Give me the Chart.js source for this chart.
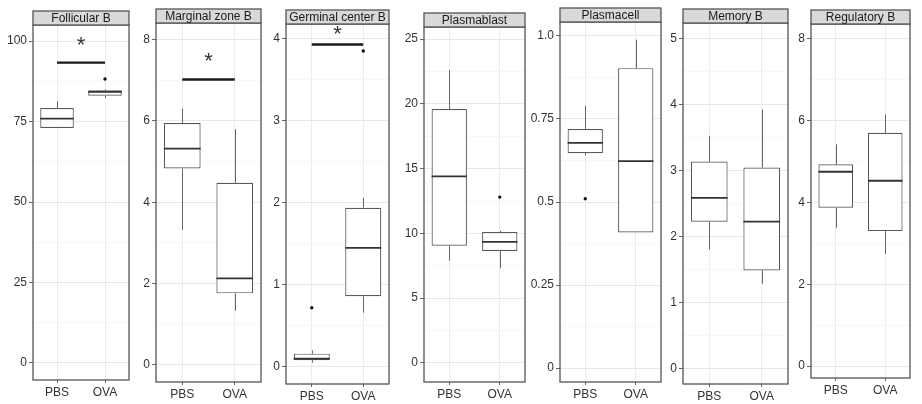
<!DOCTYPE html>
<html>
<head>
<meta charset="utf-8">
<script src="https://cdn.jsdelivr.net/npm/chart.js@4.4.1/dist/chart.umd.min.js"></script>
<style>
    html, body { margin: 0; padding: 0; background: #fff; }
    #wrap { position: relative; width: 922px; height: 404px; overflow: hidden; }
    .panel { position: absolute; top: 0; }
</style>
</head>
<body>
<div id="wrap"></div>
<script>
(function () {
    'use strict';

    var groups = ['PBS', 'OVA'];
    var titles = ['Follicular B', 'Marginal zone B', 'Germinal center B', 'Plasmablast', 'Plasmacell', 'Memory B', 'Regulatory B'];

    // box stats: [min, q1, median, q3, max]
    var follicularPBS  = [73.0, 73.0, 75.9, 79.2, 81.3];
    var follicularOVA  = [82.3, 83.0, 84.2, 84.7, 85.0];
    var marginalPBS    = [3.32, 4.83, 5.32, 5.95, 6.30];
    var marginalOVA    = [1.33, 1.76, 2.13, 4.48, 5.80];
    var germinalPBS    = [0.05, 0.08, 0.10, 0.16, 0.20];
    var germinalOVA    = [0.66, 0.86, 1.45, 1.94, 2.06];
    var plasmablastPBS = [7.9, 9.05, 14.4, 19.6, 22.6];
    var plasmablastOVA = [7.3, 8.65, 9.35, 10.1, 10.2];
    var plasmacellPBS  = [0.64, 0.647, 0.678, 0.72, 0.79];
    var plasmacellOVA  = [0.408, 0.408, 0.623, 0.903, 0.989];
    var memoryPBS      = [1.81, 2.23, 2.59, 3.14, 3.53];
    var memoryOVA      = [1.29, 1.49, 2.23, 3.05, 3.93];
    var regulatoryPBS  = [3.38, 3.87, 4.75, 4.93, 5.42];
    var regulatoryOVA  = [2.74, 3.30, 4.53, 5.70, 6.15];

    // outliers per group (PBS, OVA)
    var follicularOut  = [null, 88.2];
    var germinalOut    = [0.72, 3.85];
    var plasmablastOut = [null, 12.8];
    var plasmacellOut  = [0.51, null];

    // significance bar level and asterisk level
    var sigBar  = [93.3, 7.02, 3.93, null, null, null, null];
    var sigStar = [100.5, 7.6, 4.13, null, null, null, null];

    var follicularTicks  = [0, 25, 50, 75, 100];
    var marginalTicks    = [0, 2, 4, 6, 8];
    var germinalTicks    = [0, 1, 2, 3, 4];
    var plasmablastTicks = [0, 5, 10, 15, 20, 25];
    var plasmacellTicks  = [0, 0.25, 0.5, 0.75, 1.0];
    var plasmacellLabels = ['0', '0.25', '0.5', '0.75', '1.0'];
    var memoryTicks      = [0, 1, 2, 3, 4, 5];
    var regulatoryTicks  = [0, 2, 4, 6, 8];

    var PANELS = [
        { stats: [follicularPBS, follicularOVA],   out: follicularOut,  ticks: follicularTicks },
        { stats: [marginalPBS, marginalOVA],       out: null,           ticks: marginalTicks },
        { stats: [germinalPBS, germinalOVA],       out: germinalOut,    ticks: germinalTicks },
        { stats: [plasmablastPBS, plasmablastOVA], out: plasmablastOut, ticks: plasmablastTicks },
        { stats: [plasmacellPBS, plasmacellOVA],   out: plasmacellOut,  ticks: plasmacellTicks, labels: plasmacellLabels },
        { stats: [memoryPBS, memoryOVA],           out: null,           ticks: memoryTicks },
        { stats: [regulatoryPBS, regulatoryOVA],   out: null,           ticks: regulatoryTicks }
    ];

    // page layout of each panel (plot area in px) and y range
    var LAYOUT = [
        { left: 33,  right: 130, top: 25, bottom: 380, ymin: -5.3,  ymax: 105 },
        { left: 156, right: 261, top: 23, bottom: 382, ymin: -0.42, ymax: 8.41 },
        { left: 286, right: 390, top: 24, bottom: 384, ymin: -0.21, ymax: 4.18 },
        { left: 424, right: 526, top: 27, bottom: 382, ymin: -1.47, ymax: 25.93 },
        { left: 560, right: 662, top: 22, bottom: 382, ymin: -0.042, ymax: 1.042 },
        { left: 683, right: 788, top: 23, bottom: 384, ymin: -0.23, ymax: 5.24 },
        { left: 811, right: 910, top: 24, bottom: 378, ymin: -0.29, ymax: 8.36 }
    ];

    var LEFT_PAD = 40;
    var STRIP_H = 14;
    var FONT = 'Liberation Sans, Arial, sans-serif';

    Chart.defaults.font.family = FONT;
    Chart.defaults.color = '#333';

    var boxPlugin = {
        id: 'boxparts',
        afterDatasetsDraw: function (chart, args, opts) {
            var ctx = chart.ctx, y = chart.scales.y, meta = chart.getDatasetMeta(0);
            ctx.save();
            opts.stats.forEach(function (s, i) {
                var bar = meta.data[i];
                if (!bar) return;
                var x = Math.round(bar.x) + 0.5, hw = bar.width / 2;
                ctx.strokeStyle = '#666';
                ctx.lineWidth = 1;
                ctx.beginPath();
                ctx.moveTo(x, y.getPixelForValue(s[3]));
                ctx.lineTo(x, y.getPixelForValue(s[4]));
                ctx.moveTo(x, y.getPixelForValue(s[1]));
                ctx.lineTo(x, y.getPixelForValue(s[0]));
                ctx.stroke();
                ctx.strokeStyle = '#333';
                ctx.lineWidth = 1.8;
                ctx.beginPath();
                var ym = y.getPixelForValue(s[2]);
                ctx.moveTo(bar.x - hw, ym);
                ctx.lineTo(bar.x + hw, ym);
                ctx.stroke();
            });
            if (opts.star != null) {
                var xs = chart.scales.x;
                var xm = (xs.getPixelForValue(0) + xs.getPixelForValue(1)) / 2;
                var fs = 22;
                ctx.fillStyle = '#333';
                ctx.font = fs + 'px ' + FONT;
                ctx.textAlign = 'center';
                ctx.textBaseline = 'alphabetic';
                ctx.fillText('*', xm, y.getPixelForValue(opts.star) + 0.57 * fs);
            }
            ctx.restore();
        },
        afterDraw: function (chart, args, opts) {
            var ctx = chart.ctx, a = chart.chartArea;
            ctx.save();
            ctx.strokeStyle = '#555';
            ctx.lineWidth = 1.3;
            ctx.strokeRect(a.left, a.top, a.right - a.left, a.bottom - a.top);
            ctx.fillStyle = '#d9d9d9';
            ctx.fillRect(a.left, a.top - STRIP_H, a.right - a.left, STRIP_H);
            ctx.strokeRect(a.left, a.top - STRIP_H, a.right - a.left, STRIP_H);
            ctx.fillStyle = '#1a1a1a';
            ctx.font = '12px ' + FONT;
            ctx.textAlign = 'center';
            ctx.textBaseline = 'middle';
            ctx.fillText(opts.title, (a.left + a.right) / 2, a.top - STRIP_H / 2 + 0.5);
            ctx.restore();
        }
    };

    function buildPanel(i) {
        var p = PANELS[i], L = LAYOUT[i];
        var w = L.right - L.left + LEFT_PAD + 3;

        var div = document.createElement('div');
        div.className = 'panel';
        div.style.left = (L.left - LEFT_PAD) + 'px';
        div.style.width = w + 'px';
        div.style.height = '404px';
        var cv = document.createElement('canvas');
        cv.width = w;
        cv.height = 404;
        div.appendChild(cv);
        document.getElementById('wrap').appendChild(div);

        var majors = p.ticks;
        var step = majors[1] - majors[0];
        var minors = [];
        for (var k = 0; k < majors.length - 1; k++) minors.push((majors[k] + majors[k + 1]) / 2);
        var allTicks = majors.concat(minors).sort(function (a, b) { return a - b; });

        function isMajor(v) {
            return majors.some(function (m) { return Math.abs(m - v) < step * 1e-6; });
        }

        var datasets = [{
            type: 'bar',
            data: p.stats.map(function (s) { return [s[1], s[3]]; }),
            backgroundColor: '#ffffff',
            borderColor: '#595959',
            borderWidth: 1.2,
            borderSkipped: false,
            barPercentage: 0.7,
            categoryPercentage: 1.0,
            order: 2
        }];

        if (p.out) {
            datasets.push({
                type: 'line',
                data: p.out,
                showLine: false,
                pointRadius: 1.7,
                pointBorderWidth: 0,
                pointBackgroundColor: '#111',
                order: 1
            });
        }

        if (sigBar[i] != null) {
            datasets.push({
                type: 'line',
                data: [sigBar[i], sigBar[i]],
                borderColor: '#1a1a1a',
                borderWidth: 2.4,
                pointRadius: 0,
                order: 0
            });
        }

        new Chart(cv, {
            type: 'bar',
            data: { labels: groups, datasets: datasets },
            plugins: [boxPlugin],
            options: {
                responsive: false,
                animation: false,
                devicePixelRatio: 1,
                layout: { padding: { top: L.top, right: 3, left: 0, bottom: 0 } },
                plugins: {
                    legend: { display: false },
                    tooltip: { enabled: false },
                    boxparts: { stats: p.stats, star: sigStar[i], title: titles[i] }
                },
                scales: {
                    x: {
                        offset: true,
                        afterFit: function (s) { s.height = 404 - L.bottom; },
                        grid: {
                            offset: false,
                            color: '#ebebeb',
                            lineWidth: 1,
                            tickColor: '#666',
                            tickLength: 3
                        },
                        border: { display: false },
                        ticks: { font: { size: 12 }, color: '#333', padding: 2 }
                    },
                    y: {
                        min: L.ymin,
                        max: L.ymax,
                        afterFit: function (s) { s.width = LEFT_PAD; },
                        afterBuildTicks: function (s) {
                            s.ticks = allTicks.map(function (v) { return { value: v }; });
                        },
                        grid: {
                            color: function (c) { return isMajor(c.tick.value) ? '#e8e8e8' : '#f4f4f4'; },
                            lineWidth: function (c) { return isMajor(c.tick.value) ? 1 : 0.7; },
                            tickColor: function (c) { return isMajor(c.tick.value) ? '#666' : 'rgba(0,0,0,0)'; },
                            tickLength: 4
                        },
                        border: { display: false },
                        ticks: {
                            autoSkip: false,
                            font: { size: 12 },
                            color: '#333',
                            padding: 2,
                            callback: function (v) {
                                if (!isMajor(v)) return '';
                                var idx = majors.findIndex(function (m) { return Math.abs(m - v) < step * 1e-6; });
                                return p.labels ? p.labels[idx] : String(majors[idx]);
                            }
                        }
                    }
                }
            }
        });
    }

    for (var i = 0; i < PANELS.length; i++) buildPanel(i);
}());
</script>
</body>
</html>
